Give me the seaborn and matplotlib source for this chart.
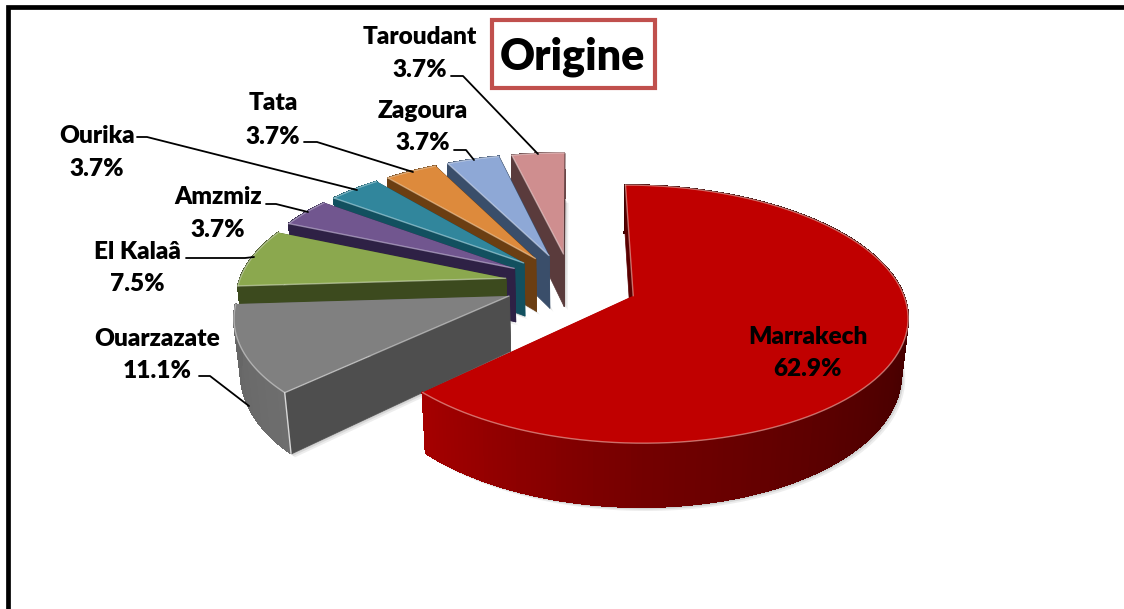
import numpy as np
import matplotlib
matplotlib.use("Agg")
import matplotlib.pyplot as plt
from matplotlib.collections import PolyCollection
from matplotlib.patches import Rectangle
import seaborn as sns

# ── data ─────────────────────────────────────────────────────────────────────
labels = ["Marrakech", "Ouarzazate", "El Kalaâ", "Amzmiz", "Ourika", "Tata", "Zagoura", "Taroudant"]
shares = [62.9, 11.1, 7.5, 3.7, 3.7, 3.7, 3.7, 3.7]
title = "Origine"

# ── style ────────────────────────────────────────────────────────────────────
top_colors = ["#C00000", "#808080", "#8BA84E", "#71568F", "#31869C", "#DD8A3C", "#8EA8D6", "#CF8E8F"]
face_colors = ["#5A0000", "#4E4E4E", "#3C4A1E", "#2E2145", "#12505F", "#6B3E12", "#3A4E6A", "#5A3B3C"]
rim_colors = ["#F0B8B0", "#D8D8D8", "#D5DFC0", "#C9BEDA", "#B5DCE6", "#F2CFA8", "#D5DEF0", "#EDD5D5"]
arc_colors = [
    ["#3A0000", "#3A0000", "#3E0000", "#560000", "#740000", "#A40000"],
    ["#6E6E6E", "#666666"],
    ["#3C4A1E", "#4A5A26"],
    ["#2E2145", "#382A52"],
    ["#12505F", "#1A6070"],
    ["#6B3E12", "#7D4A18"],
    ["#3A4E6A", "#465C7C"],
    ["#5A3B3C", "#6A4748"],
]

# label text centre (x, y of name, y of value) and leader polyline, in pixels
label_pos = [(808, 337, 369), (157, 339, 371), (137, 252, 284), (218, 197, 230),
             (97, 136, 169), (273, 103, 137), (423, 111, 143), (420, 37, 70)]
leaders = [
    None,
    [(199, 376), (210, 376), (249, 406)],
    [(186, 258), (245, 258), (254, 257)],
    [(266, 204), (276, 204), (308, 212)],
    [(137, 137), (147, 137), (357, 190)],
    [(304, 142), (317, 142), (413, 172)],
    [(454, 150), (466, 150), (474, 160)],
    [(451, 76), (463, 76), (538, 154)],
]

# camera of the exploded pie, fitted on the picture
CX, CY = 571, 283.5
B, A = 267, 123
K = 0.14        # perspective along the plane
SHRINK = 0.02   # bottom face is a bit further away
DEPTH = 54
EXPLODE = 0.25

FONT = ["Lato", "DejaVu Sans"]


def project(u, v, z=0.0):
    w = 1 + K * v
    return CX + B * u / (w + SHRINK * z), CY - A * v / w + DEPTH * z / w


def quad(p, q):
    """Upright face between plane points p and q."""
    return [project(p[0], p[1]), project(q[0], q[1]),
            project(q[0], q[1], 1), project(p[0], p[1], 1)]


sns.set_theme(style="white")
plt.rcParams["font.family"] = FONT

fig = plt.figure(figsize=(11.24, 6.09), dpi=100)
ax = fig.add_axes([0, 0, 1, 1])
ax.set_xlim(0, 1124)
ax.set_ylim(609, 0)
ax.axis("off")

# black frame on top and left only
ax.plot([7.5, 7.5, 1124], [609, 6.5, 6.5], color="black", lw=3.4, solid_joinstyle="miter", zorder=1)

edges = np.concatenate([[0], np.cumsum(shares)]) / np.sum(shares) * 2 * np.pi
z = 2
for i in range(len(shares) - 1, -1, -1):
    t0, t1 = edges[i], edges[i + 1]
    mid = (t0 + t1) / 2
    du, dv = EXPLODE * np.sin(mid), EXPLODE * np.cos(mid)
    t = np.linspace(t0, t1, max(int(np.degrees(t1 - t0)), 6) + 1)
    ru, rv = du + np.sin(t), dv + np.cos(t)
    apex = (du, dv)

    # soft shadow of the bottom outline
    bx, by = project(np.r_[du, ru], np.r_[dv, rv], 1)
    for off, alpha in [(4, 0.10), (2.5, 0.14), (1.2, 0.18)]:
        ax.fill(bx + off, by + off, color="#555555", alpha=alpha, lw=0, zorder=z)
    z += 1

    # hidden radial face, outer face, front radial face
    far = PolyCollection([quad(apex, (ru[-1], rv[-1]))], facecolors=face_colors[i],
                         edgecolors=face_colors[i], linewidths=0.5, zorder=z)
    ax.add_collection(far)
    z += 1

    strip_colors = sns.blend_palette(arc_colors[i], len(t) - 1)
    strips = [quad((ru[j], rv[j]), (ru[j + 1], rv[j + 1])) for j in range(len(t) - 1)]
    ax.add_collection(PolyCollection(strips, facecolors=strip_colors, edgecolors=strip_colors,
                                     linewidths=0.8, antialiaseds=False, zorder=z))
    z += 1

    front = quad(apex, (ru[0], rv[0]))
    ax.add_collection(PolyCollection([front], facecolors=face_colors[i],
                                     edgecolors=face_colors[i], linewidths=0.5, zorder=z))
    z += 1

    # top face
    tx, ty = project(np.r_[du, ru], np.r_[dv, rv])
    ax.fill(tx, ty, color=top_colors[i], lw=0, zorder=z)
    z += 1
    # light rim
    ax.plot(tx[1:], ty[1:], color=rim_colors[i], lw=1.0, alpha=0.6, zorder=z)
    ax.plot(tx[:2], ty[:2], color=rim_colors[i], lw=1.0, alpha=0.6, zorder=z)
    if i == 1:
        cx, cy = zip(*[front[1], front[2]])
        ax.plot(cx, cy, color=rim_colors[i], lw=1.0, zorder=z)
    z += 1

# leader lines
for line in leaders:
    if line is None:
        continue
    xs, ys = zip(*line)
    ax.plot(xs, ys, color="black", lw=1.3, zorder=z)
z += 1

# labels
for name, value, (lx, y1, y2) in zip(labels, shares, label_pos):
    ax.text(lx, y1, name, ha="center", va="center", fontsize=17.6, fontweight="heavy",
            color="black", zorder=z)
    ax.text(lx, y2, f"{value:.1f}%", ha="center", va="center", fontsize=17.6, fontweight="heavy",
            color="black", zorder=z)

# title box
ax.add_patch(Rectangle((491.5, 19.5), 163, 68, facecolor="white", edgecolor="#C0504D",
                       lw=3.0, zorder=z))
ax.text(572, 57, title, ha="center", va="center", fontsize=31, fontweight="heavy",
        color="black", zorder=z + 1)

fig.savefig("out.png", dpi=100, facecolor="white")
